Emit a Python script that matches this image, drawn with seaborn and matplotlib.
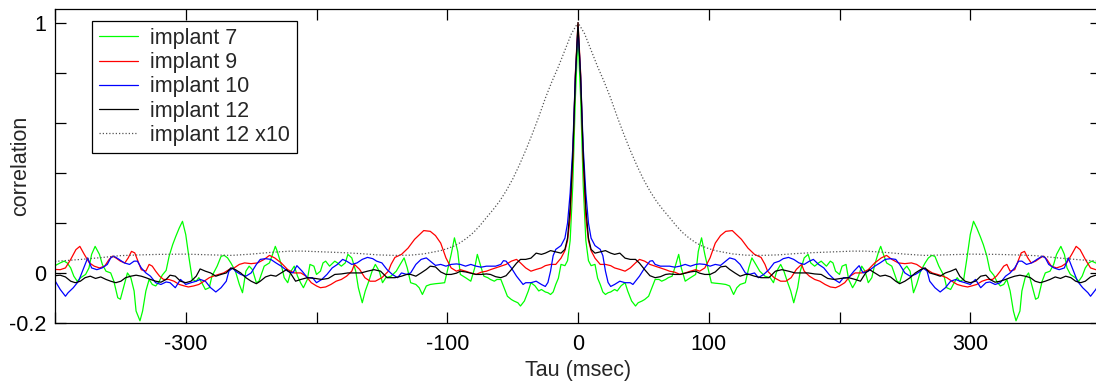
import numpy as np
import pandas as pd
import matplotlib
matplotlib.use("Agg")
import matplotlib.pyplot as plt
import seaborn as sns

# ---- data (right half, tau >= 0 ; curves are symmetric autocorrelations) ----
tau_i7 = [0, 2, 4, 6, 8, 10, 13, 15, 17, 19, 21, 23, 25, 28, 30, 33, 36, 38, 41, 44, 46, 49, 51, 54, 57, 59,
          62, 64, 67, 69, 72, 74, 77, 79, 82, 86, 90, 92, 94.5, 97, 100, 102, 105, 109, 113, 116, 119, 121.5,
          124, 128, 130.6, 133, 136, 139, 143, 147, 149.5, 152, 155, 157.5, 160, 162.7, 165, 168, 170, 173,
          176, 178, 181, 184, 186, 190, 193, 195, 197, 200, 202, 205, 207, 210, 212, 214.5, 217, 219.5, 222,
          224.7, 227, 230, 231.5, 233.6, 236, 240, 244, 246, 249, 251.5, 254, 256.6, 259, 262, 265.5, 268,
          270.6, 273, 276, 280, 282, 285, 287, 290, 292, 295, 297.5, 300, 302.5, 305, 307.6, 310, 312.7, 315,
          318, 320.5, 323, 325.6, 328, 330.5, 333, 335, 338, 339.5, 342, 344.6, 347, 350, 352, 355, 357.4,
          361, 363.8, 366, 369.3, 372, 374, 376.6, 380.4, 383, 385.6, 388, 390.7, 393, 396, 400]
corr_i7 = [0.95, 0.70, 0.35, 0.13, 0.05, 0.03, 0.035, -0.02, -0.045, -0.075, -0.085, -0.078, -0.075, -0.065,
           -0.071, -0.05, -0.038, -0.071, -0.111, -0.131, -0.118, -0.111, -0.105, -0.092, -0.052, -0.025,
           -0.025, -0.032, -0.025, -0.018, -0.012, 0.021, 0.075, 0.021, -0.032, -0.018, -0.005, 0.087, 0.141,
           0.075, 0.008, -0.038, -0.04, -0.042, -0.045, -0.051, -0.085, -0.058, -0.045, -0.038, 0.021, 0.061,
           0.035, 0.008, -0.012, -0.018, -0.038, 0.008, 0.035, 0.008, -0.032, -0.071, -0.118, -0.058, 0.008,
           0.061, 0.075, 0.041, 0.028, 0.041, 0.048, 0.028, 0.048, 0.041, 0.008, -0.005, 0.028, 0.035, -0.025,
           -0.058, -0.04, -0.012, 0.028, 0.008, -0.038, -0.018, 0.035, 0.087, 0.107, 0.075, 0.041, 0.028,
           -0.032, -0.038, 0.014, 0.028, 0.008, -0.078, -0.045, 0.008, 0.041, 0.061, 0.071, 0.067, 0.028,
           -0.012, -0.058, -0.065, -0.045, -0.018, -0.032, -0.025, 0.061, 0.154, 0.207, 0.18, 0.147, 0.114,
           0.068, 0.011, -0.008, -0.035, -0.051, -0.045, -0.025, -0.071, -0.151, -0.19, -0.151, -0.071, -0.018,
           0.001, -0.045, -0.104, -0.098, -0.032, 0.001, 0.008, 0.035, 0.075, 0.107, 0.075, 0.021, -0.005,
           -0.018, -0.032, -0.012, 0.021, 0.041, 0.048, 0.041, 0.03]

tau_i9 = [0, 2, 4, 6, 8, 10, 13, 17, 21, 25, 28, 32, 36, 40, 44, 47, 51, 55, 59, 63, 67, 70, 74, 78, 82, 86,
          90, 93, 97, 101, 105, 109, 113, 118, 120, 125, 130, 135, 140, 143, 145, 150, 155, 159, 163, 167, 171,
          173, 177, 181, 185, 189, 193, 197, 200, 204, 208, 212, 217, 222, 227, 232, 236, 240, 245, 250, 255,
          259, 263, 267, 271, 275, 279, 282, 286, 290, 294, 298, 301, 305, 309, 313, 317, 320, 323, 325.6, 328,
          330.5, 334, 336.5, 339, 341.5, 344, 346.6, 350, 353.5, 356, 358.6, 362, 366, 370, 373.7, 377.6, 381,
          384, 388, 392, 396, 400]
corr_i9 = [1.0, 0.80, 0.45, 0.22, 0.13, 0.09, 0.06, 0.035, 0.035, 0.03, 0.021, 0.015, 0.008, 0.021, 0.041,
           0.055, 0.048, 0.035, 0.028, 0.021, 0.014, 0.008, 0.004, -0.005, 0.001, 0.008, 0.014, 0.008, 0.021,
           0.061, 0.12, 0.15, 0.167, 0.17, 0.16, 0.135, 0.1, 0.075, 0.063, 0.035, 0.008, -0.018, -0.032, -0.032,
           -0.018, 0.015, 0.035, 0.008, -0.012, -0.025, -0.032, -0.045, -0.055, -0.058, -0.051, -0.038, -0.012,
           0.001, 0.001, 0.014, 0.041, 0.061, 0.071, 0.055, 0.041, 0.038, 0.041, 0.035, 0.021, 0.014, 0.001,
           -0.005, -0.012, -0.018, -0.032, -0.045, -0.051, -0.055, -0.051, -0.045, -0.032, -0.025, -0.025,
           -0.012, 0.008, 0.028, 0.035, 0.008, 0.014, 0.048, 0.081, 0.087, 0.061, 0.041, 0.048, 0.061, 0.068,
           0.055, 0.028, 0.021, 0.028, 0.041, 0.075, 0.107, 0.094, 0.055, 0.021, 0.014, 0.015]

tau_i10 = [0, 2, 4, 6, 8, 10, 13, 17, 19, 21, 23, 25, 28, 32, 36, 40, 42, 44, 47, 51, 55, 57, 59, 63, 67, 70,
           74, 78, 82, 86, 90, 93, 97, 101, 105, 109, 113, 116, 120, 124, 128, 131, 135, 138, 142, 146, 150,
           154, 157, 161, 165, 169, 173, 177, 180, 184, 188, 192, 196, 200, 203, 207, 211, 215, 218, 222, 227,
           231, 235, 239, 243, 246, 250, 254, 258, 262, 264, 267, 269, 273, 277, 281, 285, 289, 292, 296, 300,
           304, 308, 312, 315, 319, 323, 327, 330.5, 334, 337, 339.5, 343, 347, 351, 355, 357.4, 360, 364, 368,
           372, 375, 378, 382, 386, 390, 392, 396, 400]
corr_i10 = [0.98, 0.79, 0.5, 0.32, 0.2, 0.14, 0.11, 0.095, 0.07, 0.008, -0.037, -0.053, -0.045, -0.032,
            -0.038, -0.038, -0.045, -0.032, -0.012, 0.021, 0.048, 0.05, 0.035, 0.028, 0.028, 0.028, 0.024,
            0.028, 0.035, 0.028, 0.035, 0.037, 0.035, 0.028, 0.035, 0.031, 0.048, 0.061, 0.055, 0.035, 0.001,
            -0.005, 0.001, -0.018, -0.005, 0.014, 0.041, 0.048, 0.058, 0.063, 0.055, 0.041, 0.035, 0.048, 0.055,
            0.035, 0.021, -0.005, -0.025, -0.038, -0.018, -0.018, 0.008, 0.03, 0.001, 0.008, 0.028, 0.041,
            0.055, 0.058, 0.055, 0.035, 0.001, -0.012, -0.005, 0.008, 0.021, 0.008, -0.032, -0.058, -0.075,
            -0.058, -0.032, -0.025, -0.032, -0.038, -0.045, -0.025, -0.058, -0.038, -0.035, -0.045, -0.038,
            -0.012, 0.001, 0.021, 0.048, 0.048, 0.035, 0.041, 0.055, 0.068, 0.061, 0.035, 0.021, 0.014, 0.021,
            0.061, 0.021, -0.032, -0.058, -0.078, -0.092, -0.065, -0.03]

tau_i12 = [0, 2, 4, 6, 8, 10, 13, 17, 21, 25, 28, 32, 36, 40, 44, 47, 51, 55, 59, 63, 67, 70, 74, 78, 82, 86,
           90, 93, 97, 101, 105, 109, 113, 116, 120, 124, 128, 131, 135, 140, 146, 151, 156, 161, 166, 171,
           176, 181, 186, 191, 196, 201, 207, 212, 216, 220, 223, 227, 231, 235, 239, 243, 246, 250, 254, 258,
           262, 265.5, 269, 273, 277, 281, 285, 289, 292, 296, 300, 304, 308, 312, 315, 319, 323, 327, 330.5,
           334, 338, 342, 346, 349.6, 353.5, 357.4, 361, 365, 369, 373, 377, 380.6, 384.5, 388, 392, 396, 400]
corr_i12 = [1.0, 0.78, 0.47, 0.26, 0.14, 0.095, 0.08, 0.085, 0.09, 0.08, 0.075, 0.08, 0.06, 0.055, 0.055,
            0.04, 0.014, -0.01, -0.018, -0.014, -0.005, -0.003, -0.005, -0.005, 0.0, 0.005, 0.008, 0.0, -0.005,
            -0.005, 0.005, 0.025, 0.028, 0.015, 0.001, -0.012, -0.005, -0.005, -0.012, -0.018, -0.018, 0.008,
            0.014, 0.008, 0.001, 0.001, 0.001, -0.003, -0.005, -0.021, -0.025, -0.021, -0.018, -0.025, -0.032,
            0.001, 0.014, 0.001, -0.012, -0.008, -0.015, -0.032, -0.042, -0.032, -0.018, 0.001, 0.014, 0.021,
            0.001, -0.005, -0.012, 0.001, 0.008, 0.017, -0.012, -0.032, -0.038, -0.032, -0.012, -0.008, -0.025,
            -0.036, -0.032, -0.025, -0.018, -0.012, -0.008, -0.012, -0.018, -0.032, -0.038, -0.032, -0.025,
            -0.015, -0.021, -0.012, -0.018, -0.032, -0.038, -0.032, -0.015, -0.008, -0.01]

tau_i12x10 = [0, 5, 10, 15, 20, 25, 30, 35, 40, 45, 50, 55, 60, 65, 70, 75, 80, 85, 90, 95, 100, 105, 110, 118,
              128, 140, 153, 166, 180, 195, 210, 220, 235, 250, 265, 280, 300, 320, 335, 350, 365, 380, 400]
corr_i12x10 = [1.0, 0.956, 0.89, 0.824, 0.764, 0.698, 0.624, 0.555, 0.49, 0.43, 0.375, 0.328, 0.287, 0.253,
               0.222, 0.19, 0.162, 0.14, 0.122, 0.108, 0.098, 0.09, 0.085, 0.077, 0.072, 0.071, 0.073, 0.078,
               0.082, 0.085, 0.088, 0.088, 0.083, 0.076, 0.071, 0.073, 0.076, 0.075, 0.073, 0.07, 0.062, 0.055,
               0.047]

series_names = ["implant 7", "implant 9", "implant 10", "implant 12", "implant 12 x10"]
series_tau = [tau_i7, tau_i9, tau_i10, tau_i12, tau_i12x10]
series_corr = [corr_i7, corr_i9, corr_i10, corr_i12, corr_i12x10]
colors = {"implant 7": "#00ff00", "implant 9": "#ff0000", "implant 10": "#0000ff",
          "implant 12": "#000000", "implant 12 x10": "#555555"}
dashes = {"implant 7": "", "implant 9": "", "implant 10": "", "implant 12": "",
          "implant 12 x10": (1, 1.6)}

x_ticks = [-400, -300, -200, -100, 0, 100, 200, 300, 400]
x_ticklabels = ["", "-300", "", "-100", "0", "100", "", "300", ""]
y_ticks = [-0.2, 0, 0.2, 0.4, 0.6, 0.8, 1.0]
y_ticklabels = ["-0.2", "0", "", "", "", "", "1"]

# ---- build long table (mirror the symmetric right half) ----
frames = []
for name, t, c in zip(series_names, series_tau, series_corr):
    t = np.asarray(t, float)
    c = np.asarray(c, float)
    full_t = np.concatenate([-t[:0:-1], t])
    full_c = np.concatenate([c[:0:-1], c])
    frames.append(pd.DataFrame({"tau": full_t, "corr": full_c, "series": name}))
df = pd.concat(frames, ignore_index=True)

sns.set_style("ticks")
plt.rcParams["font.family"] = ["Liberation Sans", "DejaVu Sans"]
FS = 15.5

fig = plt.figure(figsize=(10.96, 3.85), dpi=100)
ax = fig.add_axes([55 / 1096, 61.7 / 385, (1101 - 55) / 1096, 314 / 385])

sns.lineplot(data=df, x="tau", y="corr", hue="series", style="series",
             hue_order=series_names, style_order=series_names,
             palette=colors, dashes=dashes, sort=False, estimator=None,
             linewidth=0.9, ax=ax)

ax.set_xlim(-400, 400)
ax.set_ylim(-0.2, 1.053)
ax.set_xticks(x_ticks)
ax.set_xticklabels(x_ticklabels)
ax.set_yticks(y_ticks)
ax.set_yticklabels(y_ticklabels)
ax.tick_params(direction="in", length=8, width=0.9, top=True, right=True,
               labelsize=FS, colors="black")
ax.tick_params(axis="y", pad=6)
ax.tick_params(axis="x", pad=8)
for s in ax.spines.values():
    s.set_visible(True)
    s.set_linewidth(0.9)
    s.set_color("black")

ax.set_xlabel("Tau (msec)", fontsize=FS, labelpad=3)
ax.set_ylabel("correlation", fontsize=FS)
ax.yaxis.set_label_coords(-0.023, 0.5)

handles, labels = ax.get_legend_handles_labels()
leg = ax.legend(handles, labels, loc="upper left", bbox_to_anchor=(0.0354, 0.963),
                borderaxespad=0, fontsize=FS, frameon=True, fancybox=False,
                framealpha=1, edgecolor="black", handlelength=1.8,
                handletextpad=0.55, labelspacing=0.15, borderpad=0.33)
leg.get_frame().set_linewidth(0.9)

fig.savefig("out.png", dpi=100)
